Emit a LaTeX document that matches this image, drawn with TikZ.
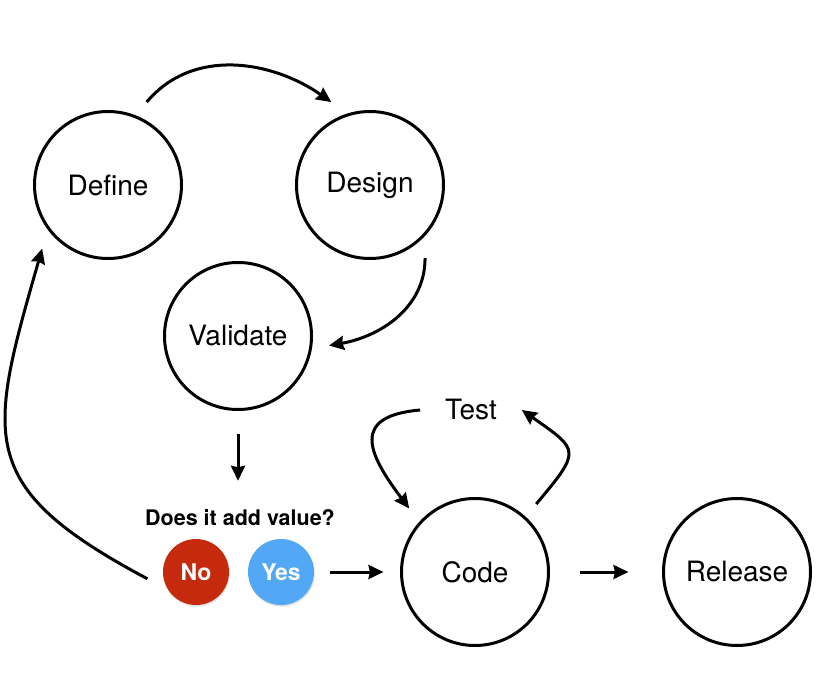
\documentclass[tikz,border=0pt]{standalone}
\usepackage{fontspec}
\setmainfont{TeX Gyre Heros}
\usetikzlibrary{arrows.meta,shadows}

\definecolor{noRed}{HTML}{C62A0E}
\definecolor{yesBlue}{HTML}{52A8F4}

\begin{document}
\begin{tikzpicture}[
  phase/.style={draw, circle, line width=3pt, minimum size=147pt,
    inner sep=0pt, outer sep=18pt, font=\fontsize{28}{32}\selectfont},
  answer/.style={circle, minimum size=66pt, inner sep=0pt, outer sep=16pt,
    text=white, font=\bfseries\fontsize{23}{26}\selectfont,
    drop shadow={opacity=0.25, shadow xshift=0.8pt, shadow yshift=-1.6pt}},
  arr/.style={-{Stealth[length=15pt,width=14pt,inset=1.5pt]}, line width=3pt}
]
  \useasboundingbox (0pt,0pt) rectangle (820pt,-690pt);

  \node[phase] (Define)   at (108pt,-185pt) {Define};
  \node[phase] (Design)   at (370pt,-185pt) {Design};
  \node[phase] (Validate) at (238pt,-336pt) {Validate};
  \node[phase] (Code)     at (475pt,-572pt) {Code};
  \node[phase] (Release)  at (737pt,-572pt) {Release};

  \node[inner sep=0pt, outer sep=25pt, font=\fontsize{28}{32}\selectfont]
    (Test) at (471pt,-410pt) {Test};
  \node[anchor=base, inner sep=0pt, font=\bfseries\fontsize{21.5}{25}\selectfont]
    (Question) at (240pt,-525pt) {Does it add value?};

  \node[answer, fill=noRed]   (No)  at (196pt,-572pt) {No};
  \node[answer, fill=yesBlue] (Yes) at (281pt,-572pt) {Yes};

  %% design loop
  \draw[arr] (Define.65) to[out=50,in=145] (Design.115);
  \draw[arr] (Design.-53) to[out=-90,in=10] (Validate.-6);
  \draw[arr, shorten <=6pt, shorten >=28pt]
    (Validate.south) -- (Validate.south |- Question.north);
  \draw[arr] (No.188) to[out=152,in=-106,looseness=1.45] (Define.224);

  %% build loop
  \draw[arr] (Yes) -- (Code);
  \draw[arr] (Test.west) to[out=185,in=127,looseness=1.8] (Code.136);
  \draw[arr] (Code.48) to[out=50,in=-35,looseness=1.9] (Test.east);
  \draw[arr, shorten <=13pt, shorten >=17pt] (Code) -- (Release);

\end{tikzpicture}
\end{document}
